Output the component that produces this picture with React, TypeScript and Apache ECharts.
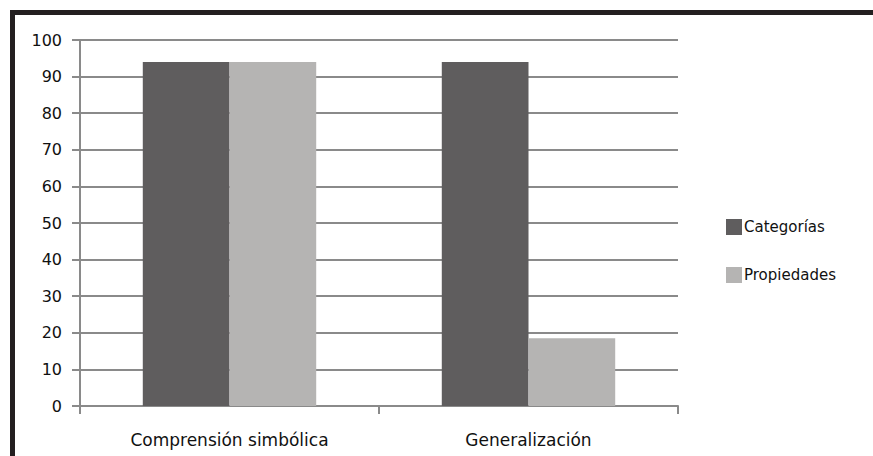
import React, { useEffect, useRef } from "react";
import * as echarts from "echarts";

const categories = ["Comprensión simbólica", "Generalización"];
const seriesNames = ["Categorías", "Propiedades"];
const categoriasValues = [94, 94];
const propiedadesValues = [94, 18.5];
const yTicks = { min: 0, max: 100, interval: 10 };

const FONT = "DejaVu Sans";

export default function App() {
  const ref = useRef<HTMLDivElement>(null);
  useEffect(() => {
    if (!ref.current) return;
    const chart = echarts.init(ref.current, undefined, { renderer: "svg" });
    chart.setOption({
      animation: false,
      backgroundColor: "#ffffff",
      textStyle: { fontFamily: FONT },
      grid: { left: 80, right: 195, top: 40, bottom: 50, containLabel: false },
      legend: {
        orient: "vertical",
        left: 721,
        top: 214,
        itemWidth: 16,
        itemHeight: 16,
        itemGap: 32,
        icon: "rect",
        data: seriesNames,
        textStyle: { fontFamily: FONT, fontSize: 15, color: "#111", padding: [0, 0, 0, -3] },
      },
      xAxis: {
        type: "category",
        data: categories,
        axisLine: { lineStyle: { color: "#8a8a8a", width: 2 } },
        axisTick: { show: true, length: 8, lineStyle: { color: "#8a8a8a", width: 2 } },
        axisLabel: { fontFamily: FONT, fontSize: 17, color: "#111", margin: 25 },
      },
      yAxis: {
        type: "value",
        min: yTicks.min,
        max: yTicks.max,
        interval: yTicks.interval,
        axisLine: { show: true, lineStyle: { color: "#8a8a8a", width: 2 } },
        axisTick: { show: true, length: 8, lineStyle: { color: "#8a8a8a", width: 2 } },
        splitLine: { show: true, lineStyle: { color: "#8a8a8a", width: 2 } },
        axisLabel: { fontFamily: FONT, fontSize: 16, color: "#111", margin: 18 },
      },
      series: [
        {
          name: seriesNames[0],
          type: "bar",
          data: categoriasValues,
          itemStyle: { color: "#5f5d5e" },
          barGap: "0%",
          barCategoryGap: "42%",
        },
        {
          name: seriesNames[1],
          type: "bar",
          data: propiedadesValues,
          itemStyle: { color: "#b5b4b3" },
          barGap: "0%",
          barCategoryGap: "42%",
        },
      ],
      graphic: [
        { type: "rect", left: 10, top: 10, shape: { width: 863, height: 5 }, style: { fill: "#231f20" } },
        { type: "rect", left: 10, top: 10, shape: { width: 5, height: 446 }, style: { fill: "#231f20" } },
      ],
    });
    return () => chart.dispose();
  }, []);
  return (
    <div
      ref={ref}
      style={{ position: "fixed", left: 0, top: 0, width: 873, height: 456, background: "#fff" }}
    />
  );
}
